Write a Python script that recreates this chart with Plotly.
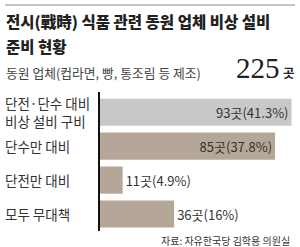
import plotly.graph_objects as go

# ---- data ----
categories = ["단전·단수 대비<br>비상 설비 구비", "단수만 대비", "단전만 대비", "모두 무대책"]
counts = [93, 85, 11, 36]
percents = ["41.3%", "37.8%", "4.9%", "16%"]
bar_colors = ["#c7c8ca", "#b4a798", "#b4a798", "#b4a798"]
text_positions = ["inside", "inside", "outside", "outside"]
total = 225
title_lines = ["전시(戰時) 식품 관련 동원 업체 비상 설비", "준비 현황"]
subtitle = "동원 업체(컵라면, 빵, 통조림 등 제조)"
source = "자료: 자유한국당 김학용 의원실"

W, H = 300, 247
FONT = "Noto Sans CJK KR"

def px(x):
    return x / W

def py(y):
    return 1 - y / H

labels = [f"{c}곳({p})" for c, p in zip(counts, percents)]

fig = go.Figure(go.Bar(
    x=counts, y=categories, orientation="h",
    marker=dict(color=bar_colors, line=dict(width=0)),
    width=0.8,
    text=labels, textposition=text_positions,
    insidetextanchor="end",
    textfont=dict(family=FONT, size=13, color="#333333"),
    cliponaxis=False,
    hoverinfo="skip",
))

fig.update_layout(
    width=W, height=H,
    margin=dict(l=0, r=0, t=0, b=0),
    paper_bgcolor="white", plot_bgcolor="white",
    showlegend=False,
    bargap=0.2,
    xaxis=dict(domain=[px(100), px(295)], range=[0, 94.7], visible=False, fixedrange=True),
    yaxis=dict(domain=[py(231), py(92)], autorange="reversed", showticklabels=False,
               showgrid=False, zeroline=False, showline=True, linecolor="#111111",
               linewidth=2, ticks="", fixedrange=True),
    font=dict(family=FONT),
)

anns = []
# title
anns.append(dict(text=title_lines[0], x=px(4), y=py(21), xanchor="left", yanchor="middle",
                 font=dict(size=15.5, color="#222222", family=FONT, weight=800)))
anns.append(dict(text=title_lines[1], x=px(4), y=py(45.5), xanchor="left", yanchor="middle",
                 font=dict(size=15.5, color="#222222", family=FONT, weight=800)))
anns.append(dict(text=subtitle, x=px(4), y=py(72), xanchor="left", yanchor="middle",
                 font=dict(size=12.8, color="#444444", family=FONT)))
anns.append(dict(text=str(total), x=px(282), y=py(68), xanchor="right", yanchor="middle",
                 font=dict(size=29, color="#222222", family="Liberation Serif")))
anns.append(dict(text="<b>곳</b>", x=px(281), y=py(72), xanchor="left", yanchor="middle",
                 font=dict(size=12.5, color="#222222", family=FONT)))
# category labels (multi-line labels split into separate lines, 18px apart)
LINE = 18.5
for c in categories:
    parts = c.split("<br>")
    n = len(parts)
    for i, part in enumerate(parts):
        shift = ((n - 1) / 2 - i) * LINE
        anns.append(dict(text=part, x=px(4), xref="paper", y=c, yref="y", yshift=shift,
                         xanchor="left", yanchor="middle", borderpad=0,
                         font=dict(size=13.5, color="#333333", family=FONT)))
# source
anns.append(dict(text=source, x=px(291), y=py(240), xanchor="right", yanchor="middle", borderpad=0,
                 font=dict(size=10, color="#333333", family=FONT)))
for a in anns:
    a.setdefault("xref", "paper")
    a.setdefault("yref", "paper")
    a["showarrow"] = False
fig.update_layout(annotations=anns)

fig.add_shape(type="line", xref="paper", yref="paper", x0=px(5), x1=px(295), y0=py(5), y1=py(5),
              line=dict(color="#888888", width=1))

fig.write_html("out.html")
